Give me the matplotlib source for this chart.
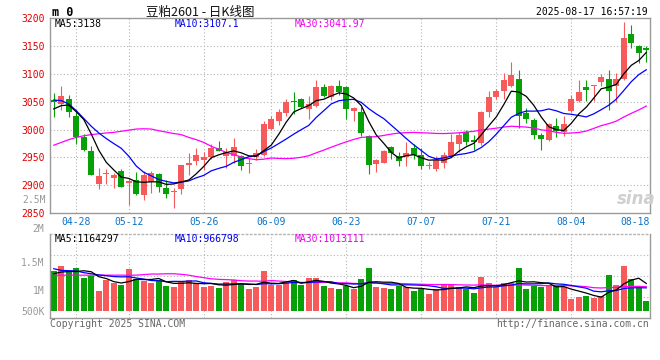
import matplotlib
matplotlib.use('Agg')
import matplotlib.pyplot as plt
import numpy as np
import pandas as pd

# trading days (DCE), holidays removed
holidays = ['2025-05-01', '2025-05-02', '2025-05-05', '2025-06-02']
dates = [d.strftime('%m-%d') for d in pd.bdate_range('2025-04-23', '2025-08-18')
         if d.strftime('%Y-%m-%d') not in holidays]
tick_dates = ['04-28', '05-12', '05-26', '06-09', '06-23', '07-07', '07-21', '08-04', '08-18']

opens = [3053, 3046, 3055, 3025, 2986, 2962, 2903, 2920, 2914, 2926,
         2904, 2910, 2883, 2906, 2921, 2896, 2888, 2894, 2936, 2943,
         2946, 2951, 2967, 2953, 2952, 2952, 2938, 2950, 2955, 3001,
         3015, 3030, 3051, 3055, 3037, 3043, 3076, 3058, 3079, 3076,
         3034, 3032, 2988, 2939, 2941, 2969, 2952, 2951, 2967, 2955,
         2934, 2929, 2940, 2952, 2975, 2996, 2981, 2976, 3031, 3058,
         3070, 3079, 3091, 3030, 3018, 2991, 2982, 3007, 2995, 3033,
         3052, 3077, 3078, 3086, 3091, 3079, 3091, 3172, 3150, 3146]
highs = [3065, 3078, 3062, 3036, 2992, 2971, 2931, 2929, 2922, 2929,
         2911, 2924, 2925, 2925, 2922, 2910, 2895, 2937, 2958, 2967,
         2960, 2974, 2979, 2967, 2985, 2955, 2949, 2965, 3016, 3024,
         3037, 3055, 3067, 3056, 3061, 3088, 3082, 3080, 3088, 3078,
         3041, 3041, 2990, 2947, 2963, 2971, 2960, 2977, 2975, 2967,
         2942, 2953, 2960, 2992, 2996, 3000, 2990, 3034, 3070, 3073,
         3101, 3122, 3107, 3039, 3020, 2994, 3011, 3021, 3024, 3062,
         3089, 3089, 3080, 3100, 3107, 3101, 3192, 3187, 3152, 3150]
lows = [3022, 3035, 3022, 2974, 2961, 2918, 2894, 2903, 2895, 2897,
        2864, 2882, 2873, 2886, 2889, 2878, 2860, 2884, 2919, 2937,
        2928, 2947, 2961, 2931, 2941, 2927, 2923, 2946, 2952, 3000,
        3009, 3025, 3028, 3038, 3019, 3041, 3059, 3053, 3062, 3019,
        3015, 2988, 2920, 2924, 2940, 2947, 2935, 2935, 2947, 2929,
        2930, 2925, 2932, 2950, 2960, 2972, 2964, 2973, 3022, 3055,
        3055, 3077, 3003, 3012, 2984, 2963, 2979, 2987, 2988, 3031,
        3050, 3052, 3052, 3079, 3036, 3050, 3089, 3147, 3120, 3122]
closes = [3049, 3061, 3031, 2987, 2963, 2919, 2916, 2922, 2919, 2898,
          2908, 2885, 2918, 2923, 2898, 2885, 2889, 2936, 2940, 2954,
          2951, 2967, 2962, 2960, 2969, 2934, 2940, 2958, 3010, 3019,
          3031, 3049, 3049, 3040, 3046, 3076, 3061, 3079, 3067, 3037,
          3039, 2994, 2936, 2946, 2962, 2958, 2943, 2958, 2954, 2935,
          2936, 2946, 2955, 2977, 2991, 2977, 2977, 3031, 3058, 3070,
          3088, 3097, 3024, 3019, 2990, 2983, 3010, 2998, 3010, 3055,
          3067, 3071, 3079, 3094, 3070, 3091, 3165, 3156, 3137, 3142]
# volume in millions
vol_m = [1.339, 1.428, 1.345, 1.393, 1.214, 1.250, 0.988, 1.178, 1.119, 1.089,
         1.375, 1.190, 1.160, 1.125, 1.178, 1.077, 1.054, 1.160, 1.178, 1.119,
         1.054, 1.071, 1.042, 1.149, 1.178, 1.107, 1.018, 1.054, 1.339, 1.089,
         1.083, 1.160, 1.178, 1.095, 1.214, 1.214, 1.071, 1.030, 1.012, 1.077,
         1.018, 1.196, 1.393, 1.054, 1.036, 1.018, 1.077, 1.048, 0.988, 1.018,
         0.929, 1.018, 1.089, 1.089, 1.060, 1.018, 0.952, 1.232, 1.125, 1.048,
         1.125, 1.125, 1.393, 1.018, 1.071, 1.048, 1.071, 1.071, 1.048, 0.839,
         0.875, 0.893, 0.857, 0.899, 1.268, 1.089, 1.428, 1.196, 1.071, 0.803]

# moving-average values before a full window is available
ma5_head = [3037, 3043, 3044, 3032]
ma10_head = [3053, 3052, 3046, 3034, 3020, 3006, 2994, 2984, 2975]
ma30_head = [2972, 2977, 2982, 2986, 2989, 2991, 2992.5, 2994, 2995, 2997,
             2999, 3001, 3001.5, 3001, 2998, 2995.5, 2993, 2991, 2986, 2982,
             2977, 2970, 2965, 2959, 2955, 2951, 2948, 2946, 2947]
vma5_head = [1.29, 1.32, 1.33, 1.33]
vma10_head = [1.38, 1.35, 1.345, 1.34, 1.31, 1.29, 1.27, 1.255, 1.24]
vma30_head = [1.265, 1.265, 1.265, 1.265, 1.265, 1.265, 1.265, 1.265, 1.265, 1.265,
              1.265, 1.265, 1.275, 1.285, 1.285, 1.29, 1.29, 1.28, 1.265, 1.24,
              1.22, 1.20, 1.19, 1.185, 1.18, 1.165, 1.16, 1.16, 1.155]

RED = '#f65a5a'
GREEN = '#07a007'
GRID = '#b4b4b4'
SPINE = '#9a9a9a'
MONO = 'DejaVu Sans Mono'


def moving(values, n, head):
    out = pd.Series(values, dtype=float).rolling(n).mean().to_numpy()
    out[:n - 1] = head
    return out


o = np.array(opens, float)
h = np.array(highs, float)
l = np.array(lows, float)
c = np.array(closes, float)
v = np.array(vol_m, float)
x = np.arange(len(c))
colors = np.where(c >= o, RED, GREEN)

W, H = 660, 360


def box(left, top, right, bottom):
    return [left / W, 1 - bottom / H, (right - left) / W, (bottom - top) / H]


fig = plt.figure(figsize=(6.6, 3.6), dpi=100)
ax = fig.add_axes(box(50, 18, 650, 213.3))
axv = fig.add_axes(box(50, 234, 650, 318))

tick_pos = [dates.index(d) for d in tick_dates]

# ---- price panel
for p in range(2900, 3200, 50):
    ax.axhline(p, color=GRID, lw=0.8, ls=(0, (1, 2)), zorder=0)
for t in tick_pos[:-1]:
    ax.axvline(t, color=GRID, lw=0.8, ls=(0, (1, 2)), zorder=0)

ax.vlines(x, l, h, colors=colors, lw=0.8, zorder=2)
ax.bar(x, np.maximum(np.abs(c - o), 1.8), bottom=np.minimum(o, c), width=0.74,
       color=colors, lw=0, zorder=3)
ax.plot(x, moving(c, 30, ma30_head), color='#ff00ff', lw=0.9, zorder=4)
ax.plot(x, moving(c, 10, ma10_head), color='#0000ff', lw=0.9, zorder=4)
ax.plot(x, moving(c, 5, ma5_head), color='black', lw=0.9, zorder=4)

ax.set_xlim(-0.5, len(c) - 0.5)
ax.set_ylim(2850, 3200)
ax.set_yticks(range(2850, 3201, 50))
ax.tick_params(axis='y', length=0, pad=4, labelsize=7, labelcolor='#e00000')
ax.set_xticks([t if d != '08-18' else len(c) - 0.5 for t, d in zip(tick_pos, tick_dates)])
ax.set_xticklabels(tick_dates)
ax.tick_params(axis='x', length=0, pad=3, labelsize=7, labelcolor='#0b72c6')
ax.get_xticklabels()[-1].set_ha('right')
for lab in ax.get_xticklabels() + ax.get_yticklabels():
    lab.set_family(MONO)
for s in ax.spines.values():
    s.set_color(SPINE)
    s.set_linewidth(1)

# ---- volume panel
base = 0.625
for q in (1.625, 1.25, 0.875):
    axv.axhline(q, color=GRID, lw=0.8, ls=(0, (1, 2)), zorder=0)
for t in tick_pos[:-1]:
    axv.axvline(t, color=GRID, lw=0.8, ls=(0, (1, 2)), zorder=0)
axv.bar(x, v - base, bottom=base, width=0.78, color=colors, lw=0, zorder=2)
axv.plot(x, moving(v, 30, vma30_head), color='#ff00ff', lw=0.9, zorder=3)
axv.plot(x, moving(v, 10, vma10_head), color='#0000ff', lw=0.9, zorder=3)
axv.plot(x, moving(v, 5, vma5_head), color='black', lw=0.9, zorder=3)
axv.set_xlim(-0.5, len(c) - 0.5)
axv.set_ylim(0.5, 2.0)
axv.set_xticks([])
axv.set_yticks([2.0, 1.5, 1.0, base])
axv.set_yticklabels(['2M', '1.5M', '1M', '500K'], family=MONO)
axv.get_yticklabels()[0].set_va('bottom')
axv.tick_params(axis='y', length=0, pad=4, labelsize=7, labelcolor='#999999')
for s in axv.spines.values():
    s.set_color(SPINE)
    s.set_linewidth(1)
axv.spines['top'].set_linestyle((0, (1, 2)))
axv.spines['top'].set_color(GRID)


def px(xp, yp):
    return xp / W, 1 - yp / H


# ---- texts
fig.text(*px(52, 12), 'm 0', family=MONO, weight='bold', size=8.5, va='center')
fig.text(*px(200, 12), '豆粕2601 - 日K线图', family=['Noto Sans CJK SC', 'DejaVu Sans'],
         size=9, ha='center', va='center', color='#111111')
fig.text(*px(648, 12), '2025-08-17 16:57:19', family=MONO, size=7, ha='right', va='center')

for xp, txt, col in [(55, 'MA5:3138', 'black'), (175, 'MA10:3107.1', '#0000ee'),
                     (295, 'MA30:3041.97', '#ee00ee')]:
    fig.text(*px(xp, 24), txt, family=MONO, size=7, color=col, va='center')
for xp, txt, col in [(55, 'MA5:1164297', 'black'), (175, 'MA10:966798', '#0000ee'),
                     (295, 'MA30:1013111', '#ee00ee')]:
    fig.text(*px(xp, 238.5), txt, family=MONO, size=7, color=col, va='center')

fig.text(*px(46, 200), '2.5M', family=MONO, size=7, color='#999999', ha='right', va='center')
fig.text(*px(50, 324), 'Copyright 2025 SINA.COM', family=MONO, size=7, color='#666666', va='center')
fig.text(*px(649, 324), 'http://finance.sina.com.cn', family=MONO, size=7, color='#666666',
         ha='right', va='center')
fig.text(*px(636, 199), 'sina', size=12, style='italic', weight='bold', color='#cfcfcf',
         ha='center', va='center', zorder=1)

fig.savefig('out.png', dpi=100)
